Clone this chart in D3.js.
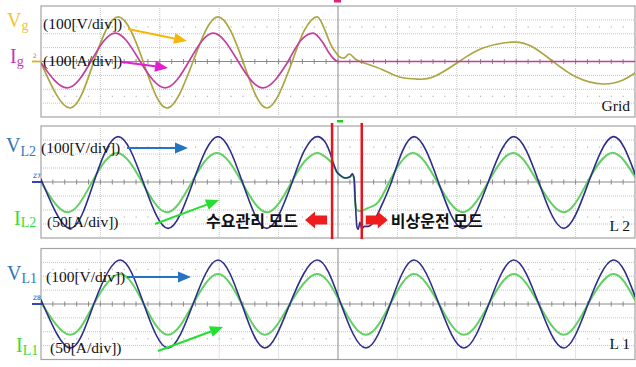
<!DOCTYPE html>
<html>
<head>
<meta charset="utf-8">
<script src="https://cdn.jsdelivr.net/npm/d3@7"></script>
<style>
  body { margin: 0; background: #fff; }
  svg { display: block; }
  .serif { font-family: "Liberation Serif", "DejaVu Serif", serif; }
  .kr { font-family: "Noto Sans CJK KR", sans-serif; font-weight: bold; }
</style>
</head>
<body>
<svg id="chart" width="636" height="367"></svg>
<script>
// time in ms (10 ms/div), values in V or A

// grid panel: grid voltage / current, grid trips near 50 ms
const vgSteady = [[0, -10], [4.9, -335], [8.9, 0], [13.0, 322], [17.2, 0], [21.2, -335], [25.6, 0], [29.8, 322], [34.0, 0], [38.0, -335], [42.3, 0]];
const vgTrip = [[42.3, 0], [44.4, 230], [46.5, 322], [48.0, 205], [48.8, 119], [49.7, 61], [50.3, 32], [51.0, 25], [51.9, 54], [52.9, 18], [53.9, -4]];
const vgIsland = [[53.9, -4], [57.6, -61], [60.3, -112], [63.1, -126], [66.0, -112], [70.4, 0], [74.4, 97], [79.5, 140], [82.8, 104], [86.2, 0], [90.1, -112], [94.6, -162], [98.0, -133], [100, -83]];

const igSteady = [[0, -10], [4.4, -190], [8.4, 0], [12.5, 205], [16.7, 0], [20.9, -190], [24.9, 0], [29.0, 205], [33.2, 0], [37.4, -190], [41.6, 0]];
const igTrip = [[41.6, 0], [43.7, 150], [45.8, 205], [47.5, 133], [48.5, 61], [49.3, 18], [50.0, 0], [100, 0]];

// L2 panel
const vl2Before = [[0, 20], [4.9, -331], [8.9, 0], [13.0, 324], [17.2, 0], [21.4, -331], [25.6, 0], [29.8, 324], [33.9, 0], [38.0, -331], [42.3, 0]];
const vl2Trip = [[42.3, 0], [44.4, 230], [46.5, 324], [47.8, 288], [48.6, 216], [49.2, 137], [49.8, 72], [50.3, 50], [51.2, 29], [52.0, 36], [52.4, 58], [52.7, 29], [52.9, -130], [53.2, -324], [53.4, -338], [53.7, -288], [54.0, -331], [54.5, -317], [55.1, -317], [57.6, -144], [59.0, 0]];
const vl2After = [[59.0, 0], [62.8, 324], [66.9, 0], [71.0, -331], [75.3, 0], [79.6, 324], [83.8, 0], [88.0, -331], [92.2, 0], [96.3, 324], [100, 58]];

const il2Before = [[0, 0], [4.5, -108], [8.6, 0], [12.8, 104], [17.0, 0], [21.2, -108], [25.4, 0], [29.6, 104], [33.8, 0], [38.0, -108], [42.2, 0]];
const il2Trip = [[42.2, 0], [44.4, 74], [46.5, 104], [48.1, 86], [49.2, 61], [49.8, 36], [50.3, 25], [51.2, 14], [52.0, 18], [52.4, 25], [52.7, 14], [52.9, -76], [53.2, -101], [53.9, -104], [54.9, -94], [56.6, -76], [58.6, 0]];
const il2After = [[58.6, 0], [62.6, 104], [66.7, 0], [71.0, -108], [75.3, 0], [79.5, 104], [83.6, 0], [88.0, -108], [92.0, 0], [96.1, 104], [100, 18]];

// L1 panel (undisturbed)
const l1Time = [0, 4.9, 8.9, 13.3, 17.3, 21.4, 25.6, 29.8, 33.8, 37.7, 41.9, 46.5, 50.5, 54.7, 58.8, 62.8, 67.0, 71.2, 75.4, 79.6, 83.8, 88.0, 92.1, 96.3, 100];
const vl1Volts = [30, -317, 0, 317, 0, -317, 0, 317, 0, -317, 0, 317, 0, -317, 0, 317, 0, -317, 0, 317, 0, -317, 0, 317, 55];
const il1Amps = [5, -111, 0, 108, 0, -111, 0, 108, 0, -111, 0, 108, 0, -111, 0, 108, 0, -111, 0, 108, 0, -111, 0, 108, 14];

// mode change instants (ms)
const modeLines = [49.0, 54.0];

const svg = d3.select('#chart');
const serif = '"Liberation Serif", "DejaVu Serif", serif';

const x = d3.scaleLinear().domain([0, 100]).range([41, 635]);

const panels = [
  { top: 6, bottom: 117, tag: 'Grid', tagY: 111 },
  { top: 126, bottom: 238, tag: 'L 2', tagY: 231 },
  { top: 248.5, bottom: 359.5, tag: 'L 1', tagY: 349 }
];

// y scale for a panel given units per division (8 divisions)
function yScale(p, perDiv) {
  return d3.scaleLinear().domain([-4 * perDiv, 4 * perDiv]).range([p.bottom, p.top]);
}

const defs = svg.append('defs');

panels.forEach((p, i) => {
  const g = svg.append('g');
  const yd = yScale(p, 1);
  defs.append('clipPath').attr('id', 'clip' + i)
    .append('rect').attr('x', x(0)).attr('y', p.top).attr('width', x(100) - x(0)).attr('height', p.bottom - p.top);

  g.append('rect')
    .attr('x', x(0)).attr('y', p.top)
    .attr('width', x(100) - x(0)).attr('height', p.bottom - p.top)
    .attr('fill', '#fff').attr('stroke', '#a4a4a4').attr('stroke-width', 1.2);

  // horizontal grid
  g.selectAll('.hl').data([-3, -2, -1, 1, 2, 3]).enter().append('line')
    .attr('x1', x(0)).attr('x2', x(100))
    .attr('y1', d => yd(d)).attr('y2', d => yd(d))
    .attr('stroke', '#c2c2c2').attr('stroke-dasharray', '1,1');

  // vertical grid
  g.selectAll('.vl').data(d3.range(10, 100, 10)).enter().append('line')
    .attr('x1', d => x(d)).attr('x2', d => x(d))
    .attr('y1', p.top).attr('y2', p.bottom)
    .attr('stroke', d => d === 50 ? '#8a8a8a' : '#c6c6c6')
    .attr('stroke-dasharray', d => d === 50 ? null : '1,1');

  // dotted rows
  [-2.5, 2.5].forEach(r => {
    g.selectAll(null).data(d3.range(2, 100, 2)).enter().append('rect')
      .attr('x', d => x(d) - 0.5).attr('y', yd(r) - 0.5)
      .attr('width', 1.2).attr('height', 1.2).attr('fill', '#b4b4b4');
  });

  // centre axis with minor ticks
  g.append('line')
    .attr('x1', x(0)).attr('x2', x(100)).attr('y1', yd(0)).attr('y2', yd(0))
    .attr('stroke', '#8a8a8a');
  g.selectAll('.tk').data(d3.range(2, 100, 2)).enter().append('line')
    .attr('x1', d => x(d)).attr('x2', d => x(d))
    .attr('y1', yd(0) - 2.5).attr('y2', yd(0) + 2.5)
    .attr('stroke', '#8a8a8a');

  g.append('text').attr('class', 'serif')
    .attr('x', 630).attr('y', p.tagY).attr('text-anchor', 'end')
    .attr('font-size', 15.5).attr('fill', '#111')
    .text(p.tag);
});

function drawSegments(clipIdx, segs, y, color, w) {
  const g = svg.append('g').attr('clip-path', 'url(#clip' + clipIdx + ')');
  segs.forEach(([pts, curve]) => {
    g.append('path').datum(pts)
      .attr('d', d3.line().x(d => x(d[0])).y(d => y(d[1])).curve(curve))
      .attr('fill', 'none').attr('stroke', color).attr('stroke-width', w)
      .attr('stroke-linejoin', 'round').attr('stroke-linecap', 'round');
  });
}

const nat = d3.curveNatural, mono = d3.curveMonotoneX;

// grid panel
const yG = yScale(panels[0], 100);
drawSegments(0, [[vgSteady, nat], [vgTrip, mono], [vgIsland, nat]], yG, '#aaa640', 1.7);
drawSegments(0, [[igSteady, nat], [igTrip, mono]], yG, '#c33f9d', 1.7);

// L2 panel
const yV2 = yScale(panels[1], 100), yI2 = yScale(panels[1], 50);
drawSegments(1, [[il2Before, nat], [il2Trip, mono], [il2After, nat]], yI2, '#62d062', 2);
drawSegments(1, [[vl2Before, nat], [vl2Trip, mono], [vl2After, nat]], yV2, '#2d2d8a', 1.6);

// L1 panel
const yV1 = yScale(panels[2], 100), yI1 = yScale(panels[2], 50);
drawSegments(2, [[l1Time.map((t, i) => [t, il1Amps[i]]), nat]], yI1, '#62d062', 2);
drawSegments(2, [[l1Time.map((t, i) => [t, vl1Volts[i]]), nat]], yV1, '#2d2d8a', 1.6);

// little channel markers at the left edge
const markers = [
  { p: 0, txt: '2', c: '#e0b020', tc: '#b08840' },
  { p: 1, txt: 'Z7', c: '#2030b0', tc: '#2040a0' },
  { p: 2, txt: 'Z8', c: '#2030b0', tc: '#2040a0' }
];
markers.forEach(m => {
  const cy = yScale(panels[m.p], 1)(0);
  svg.append('line').attr('x1', 32).attr('x2', 42).attr('y1', cy).attr('y2', cy)
    .attr('stroke', m.c).attr('stroke-width', 1.8);
  svg.append('text').attr('x', 33).attr('y', cy - 4).attr('font-size', 6)
    .attr('font-family', 'DejaVu Sans').attr('fill', m.tc).text(m.txt);
});
svg.append('rect').attr('x', x(50) - 4).attr('y', 0).attr('width', 7).attr('height', 2.5).attr('fill', '#e0207a');
svg.append('rect').attr('x', x(50) - 1).attr('y', 120).attr('width', 6).attr('height', 2.5).attr('fill', '#22cc22');

// mode boundary lines
modeLines.forEach(t => {
  svg.append('line').attr('x1', x(t)).attr('x2', x(t))
    .attr('y1', panels[1].top - 3).attr('y2', panels[1].bottom + 1)
    .attr('stroke', '#e8141c').attr('stroke-width', 2.5);
});

// block arrows
function blockArrow(tail, tip, cy) {
  const dir = Math.sign(tip - tail), hb = tip - dir * 10;
  const pts = [[tail, cy - 4.5], [hb, cy - 4.5], [hb, cy - 8.5], [tip, cy], [hb, cy + 8.5], [hb, cy + 4.5], [tail, cy + 4.5]];
  svg.append('polygon').attr('points', pts.map(d => d.join(',')).join(' ')).attr('fill', '#ee1c1c');
}
blockArrow(x(modeLines[0]) - 5, x(modeLines[0]) - 27, 220);
blockArrow(x(modeLines[1]) + 4, x(modeLines[1]) + 26, 220);

svg.append('text').attr('class', 'kr').attr('x', x(modeLines[0]) - 34).attr('y', 227)
  .attr('text-anchor', 'end').attr('font-size', 16).attr('fill', '#111').text('수요관리 모드');
svg.append('text').attr('class', 'kr').attr('x', x(modeLines[1]) + 29).attr('y', 227)
  .attr('font-size', 16).attr('fill', '#111').text('비상운전 모드');

// thin pointer arrows
function pointer(x1, y1, x2, y2, color) {
  const a = Math.atan2(y2 - y1, x2 - x1), L = 13, Wd = 5.5;
  const bx = x2 - L * Math.cos(a), by = y2 - L * Math.sin(a);
  svg.append('line').attr('x1', x1).attr('y1', y1).attr('x2', bx).attr('y2', by)
    .attr('stroke', color).attr('stroke-width', 2);
  const pts = [[x2, y2], [bx + Wd * Math.sin(a), by - Wd * Math.cos(a)], [bx - Wd * Math.sin(a), by + Wd * Math.cos(a)]];
  svg.append('polygon').attr('points', pts.map(d => d.join(',')).join(' ')).attr('fill', color);
}
pointer(128, 29, 187, 41, '#f6b70c');
pointer(122, 62, 168, 68, '#e21ed2');
pointer(127, 148, 188, 148, '#2474c0');
pointer(155, 224, 219, 200, '#22e030');
pointer(127, 277, 191, 277, '#2474c0');
pointer(158, 351, 223, 327, '#22e030');

// labels
function label(xp, yp, big, sub, color, subDy) {
  const t = svg.append('text').attr('class', 'serif').attr('x', xp).attr('y', yp).attr('fill', color);
  t.append('tspan').attr('font-size', 20).text(big);
  t.append('tspan').attr('font-size', 14).attr('dy', subDy).text(sub);
}
label(7, 27, 'V', 'g', '#f2c232', 3);
label(10, 63, 'I', 'g', '#c935b8', 3);
label(6, 152, 'V', 'L2', '#2f74b6', 4);
label(14, 225, 'I', 'L2', '#33dd33', 2);
label(7, 280, 'V', 'L1', '#2f74b6', 3);
label(16, 352, 'I', 'L1', '#33dd33', 3);

const scaleTexts = [
  [43, 29, '(100[V/div])'],
  [43, 66, '(100[A/div])'],
  [41, 153, '(100[V/div])'],
  [47, 227, '(50[A/div])'],
  [46, 282, '(100[V/div])'],
  [50, 353, '(50[A/div])']
];
scaleTexts.forEach(([xp, yp, s]) => {
  svg.append('text').attr('class', 'serif').attr('x', xp).attr('y', yp)
    .attr('font-size', 15.5).attr('fill', '#111').text(s);
});
</script>
</body>
</html>
